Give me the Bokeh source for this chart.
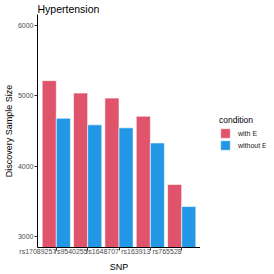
from bokeh.plotting import figure
from bokeh.layouts import row
from bokeh.models import FactorRange, Range1d, FixedTicker, Legend, LegendItem, ColumnDataSource
from bokeh.transform import dodge
from bokeh.embed import file_html
from bokeh.resources import INLINE

snps = ["rs17089257", "rs9540255", "rs1648707", "rs163913", "rs765528"]
with_e = [5213, 5037, 4966, 4710, 3743]
without_e = [4681, 4587, 4545, 4331, 3430]
conditions = ["with E", "without E"]
colors = ["#DF536B", "#2297E6"]
y_ticks = [3000, 4000, 5000, 6000]

FONT = "Liberation Sans"
H = 274

src = ColumnDataSource(dict(snp=snps, with_e=with_e, without_e=without_e))

xr = FactorRange(factors=snps, range_padding=0.04)
p = figure(x_range=xr, y_range=Range1d(2850, 6150), width=200, height=H,
           output_backend="svg", toolbar_location=None, title="Hypertension",
           min_border_left=0, min_border_top=0, min_border_bottom=0, min_border_right=0)

bar_style = dict(line_color="white", line_alpha=0.6, line_width=1)
r1 = p.vbar(x=dodge("snp", -0.225, range=p.x_range), top="with_e", bottom=0, width=0.45,
            source=src, fill_color=colors[0], **bar_style)
r2 = p.vbar(x=dodge("snp", 0.225, range=p.x_range), top="without_e", bottom=0, width=0.45,
            source=src, fill_color=colors[1], **bar_style)

p.title.text_font = FONT
p.title.text_font_size = "10.5px"
p.title.text_font_style = "normal"
p.title.text_color = "black"
p.title.offset = 0
p.title.standoff = 0

p.xgrid.visible = False
p.ygrid.visible = False
p.outline_line_color = None

p.yaxis.ticker = FixedTicker(ticks=y_ticks)
for ax in (p.xaxis[0], p.yaxis[0]):
    ax.axis_line_color = "black"
    ax.axis_line_width = 1
    ax.major_tick_line_color = "#333333"
    ax.major_tick_out = 3
    ax.major_tick_in = 0
    ax.minor_tick_line_color = None
    ax.major_label_text_font = FONT
    ax.major_label_text_font_size = "7px"
    ax.major_label_text_color = "#4D4D4D"
    ax.major_label_standoff = 1
    ax.axis_label_text_font = FONT
    ax.axis_label_text_font_size = "9px"
    ax.axis_label_text_font_style = "normal"
    ax.axis_label_text_color = "black"
    ax.axis_label_standoff = 1

p.xaxis.axis_label_standoff = 0
p.yaxis.axis_label = "Discovery Sample Size"
p.xaxis.axis_label = "SNP"
p.xaxis.major_label_orientation = 0

# legend panel
lp = figure(width=66, height=H, output_backend="svg", toolbar_location=None,
            x_range=Range1d(0, 1), y_range=Range1d(0, 1),
            min_border_left=0, min_border_top=0, min_border_bottom=0, min_border_right=0)
lp.axis.visible = False
lp.grid.visible = False
lp.outline_line_color = None
k1 = lp.vbar(x=[-5], top=[-5], bottom=[-6], width=0.5, fill_color=colors[0], **bar_style)
k2 = lp.vbar(x=[-5], top=[-5], bottom=[-6], width=0.5, fill_color=colors[1], **bar_style)

legend = Legend(items=[LegendItem(label=conditions[0], renderers=[k1]),
                       LegendItem(label=conditions[1], renderers=[k2])],
                title="condition", location=(15, 92))
legend.title_text_font = FONT
legend.title_text_font_size = "8.5px"
legend.title_text_font_style = "normal"
legend.title_text_color = "black"
legend.title_standoff = 2
legend.label_text_font = FONT
legend.label_text_font_size = "7px"
legend.label_text_color = "#1A1A1A"
legend.glyph_width = 12
legend.glyph_height = 12
legend.label_height = 12
legend.spacing = 0
legend.padding = 4
legend.margin = 0
legend.label_standoff = 7
legend.border_line_alpha = 0
legend.background_fill_alpha = 0
lp.add_layout(legend, "center")

layout = row(p, lp)
open("out.html", "w").write(file_html(layout, INLINE))
